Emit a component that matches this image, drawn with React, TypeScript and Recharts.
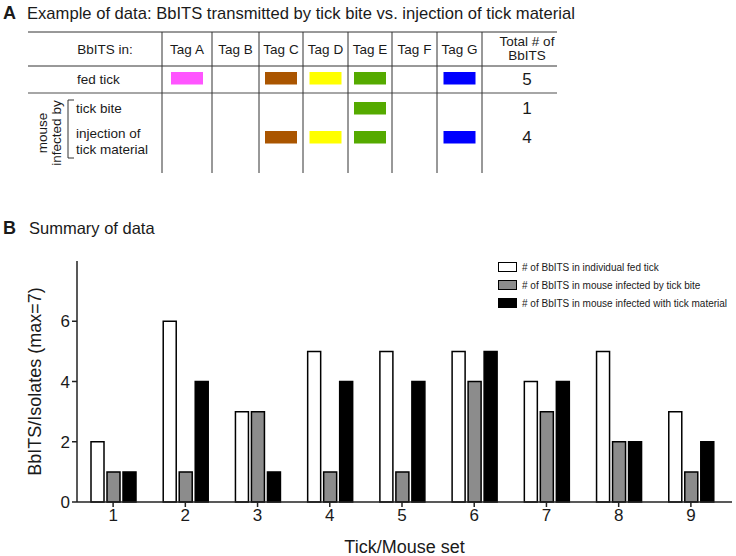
import { Bar, BarChart, XAxis, YAxis } from "recharts";

// panel A: example table
const tags = ["Tag A", "Tag B", "Tag C", "Tag D", "Tag E", "Tag F", "Tag G"];
const tagColors = ["#ff55ff", "#ffffff", "#aa5500", "#ffff00", "#55aa00", "#ffffff", "#0000ff"];
const fedTickHits = [1, 0, 1, 1, 1, 0, 1];
const tickBiteHits = [0, 0, 0, 0, 1, 0, 0];
const injectionHits = [0, 0, 1, 1, 1, 0, 1];
const rowTotals = [5, 1, 4];

// panel B: summary
const sets = ["1", "2", "3", "4", "5", "6", "7", "8", "9"];
const fedTick = [2, 6, 3, 5, 5, 5, 4, 5, 3];
const tickBite = [1, 1, 3, 1, 1, 4, 3, 2, 1];
const tickMaterial = [1, 4, 1, 4, 4, 5, 4, 2, 2];
const yTicks = [0, 2, 4, 6];

const seriesNames = [
  "# of BbITS in individual fed tick",
  "# of BbITS in mouse infected by tick bite",
  "# of BbITS in mouse infected with tick material",
];
const seriesFills = ["#ffffff", "#8c8c8c", "#000000"];

const FONT = "'Liberation Sans', Arial, sans-serif";
const INK = "#1a1a1a";

const colEdges = [162, 212, 259, 303, 348, 392, 437, 482];

function TableA() {
  const rows = [
    { hits: fedTickHits, y: 72 },
    { hits: tickBiteHits, y: 102 },
    { hits: injectionHits, y: 131 },
  ];
  return (
    <svg width={736} height={200} style={{ position: "absolute", left: 0, top: 0 }} fontFamily={FONT}>
      <text x={3} y={19} fontSize={18} fontWeight="bold" fill={INK}>A</text>
      <text x={27} y={19} fontSize={16.6} fill={INK}>
        Example of data: BbITS transmitted by tick bite vs. injection of tick material
      </text>

      <line x1={28} x2={557} y1={32} y2={32} stroke="#333" strokeWidth={1} />
      <line x1={28} x2={557} y1={66} y2={66} stroke="#333" strokeWidth={1} />
      <line x1={28} x2={557} y1={93} y2={93} stroke="#888" strokeWidth={1.5} />
      {colEdges.map((x) => (
        <line key={x} x1={x} x2={x} y1={32} y2={173} stroke="#333" strokeWidth={1} />
      ))}

      <text x={105} y={54} fontSize={13.5} textAnchor="middle" fill={INK}>BbITS in:</text>
      {tags.map((t, i) => (
        <text key={t} x={(colEdges[i] + colEdges[i + 1]) / 2} y={54} fontSize={13.5} textAnchor="middle" fill={INK}>
          {t}
        </text>
      ))}
      <text x={527} y={46} fontSize={13.5} textAnchor="middle" fill={INK}>Total # of</text>
      <text x={527} y={60} fontSize={13.5} textAnchor="middle" fill={INK}>BbITS</text>

      <text x={77} y={84} fontSize={13.5} fill={INK}>fed tick</text>
      <text x={76} y={113} fontSize={13.5} fill={INK}>tick bite</text>
      <text x={76} y={138} fontSize={13.5} fill={INK}>injection of</text>
      <text x={76} y={154} fontSize={13.5} fill={INK}>tick material</text>

      <g transform="rotate(-90, 47, 133)">
        <text x={47} y={132.5} fontSize={13.5} textAnchor="middle" fill={INK}>mouse</text>
        <text x={47} y={146.5} fontSize={13.5} textAnchor="middle" fill={INK}>infected by</text>
      </g>
      <polyline points="74,100 68,100 68,158 74,158" fill="none" stroke="#333" strokeWidth={1} />

      {rows.map((r, ri) =>
        r.hits.map((h, i) =>
          h ? (
            <rect
              key={`${ri}-${i}`}
              x={(colEdges[i] + colEdges[i + 1]) / 2 - 16}
              y={r.y}
              width={32}
              height={12.5}
              fill={tagColors[i]}
            />
          ) : null
        )
      )}
      {rowTotals.map((t, i) => (
        <text key={i} x={527} y={[85, 114, 143][i]} fontSize={17} textAnchor="middle" fill={INK}>
          {t}
        </text>
      ))}
    </svg>
  );
}

const data = sets.map((s, i) => ({
  set: s,
  fed: fedTick[i],
  bite: tickBite[i],
  material: tickMaterial[i],
}));

function LegendBox() {
  return (
    <div style={{ position: "absolute", left: 498, top: 258, fontFamily: FONT, fontSize: 10, color: INK }}>
      {seriesNames.map((n, i) => (
        <div key={n} style={{ display: "flex", alignItems: "center", height: 18 }}>
          <svg width={24} height={10}>
            <rect x={0.5} y={0.5} width={18} height={9} fill={seriesFills[i]} stroke="#000" strokeWidth={1} />
          </svg>
          <span>{n}</span>
        </div>
      ))}
    </div>
  );
}

function YLabel(props: any) {
  const vb = props.viewBox || { x: 0, y: 0, width: 0, height: 0 };
  const cx = vb.x + 35;
  const cy = vb.y + vb.height / 2;
  return (
    <text x={cx} y={cy} transform={`rotate(-90, ${cx}, ${cy})`} textAnchor="middle" dominantBaseline="central" fontSize={18} fill={INK} fontFamily={FONT}>
      BbITS/Isolates (max=7)
    </text>
  );
}

export default function App() {
  return (
    <div style={{ position: "absolute", left: 0, top: 0, width: 736, height: 556, background: "#fff", fontFamily: FONT }}>
      <TableA />
      <svg width={200} height={30} style={{ position: "absolute", left: 0, top: 214 }} fontFamily={FONT}>
        <text x={3} y={20} fontSize={18} fontWeight="bold" fill={INK}>B</text>
        <text x={29} y={20} fontSize={16.5} fill={INK}>Summary of data</text>
      </svg>
      <div style={{ position: "absolute", left: 0, top: 240 }}>
        <BarChart
          width={736}
          height={316}
          data={data}
          margin={{ top: 21, right: 4, bottom: 0, left: 0 }}
          barSize={13}
          barGap={3}
        >
          <XAxis
            dataKey="set"
            height={54}
            padding={{ left: 0, right: 5 }}
            tick={{ fontSize: 17, fill: INK, fontFamily: FONT }}
            tickSize={5}
            tickMargin={2}
            axisLine={{ stroke: "#222", strokeWidth: 1.5 }}
            tickLine={{ stroke: "#222", strokeWidth: 1.5 }}
            label={{ value: "Tick/Mouse set", position: "insideBottom", offset: 3, fontSize: 18, fill: INK, fontFamily: FONT }}
          />
          <YAxis
            width={77}
            domain={[0, 8]}
            ticks={yTicks}
            tick={{ fontSize: 17, fill: INK, fontFamily: FONT }}
            tickSize={5}
            tickMargin={2}
            axisLine={{ stroke: "#222", strokeWidth: 1.5 }}
            tickLine={{ stroke: "#222", strokeWidth: 1.5 }}
            label={<YLabel />}
          />
          <Bar dataKey="fed" name={seriesNames[0]} fill={seriesFills[0]} stroke="#000" strokeWidth={1.5} isAnimationActive={false} />
          <Bar dataKey="bite" name={seriesNames[1]} fill={seriesFills[1]} stroke="#000" strokeWidth={1.5} isAnimationActive={false} />
          <Bar dataKey="material" name={seriesNames[2]} fill={seriesFills[2]} stroke="#000" strokeWidth={1.5} isAnimationActive={false} />
        </BarChart>
      </div>
      <LegendBox />
    </div>
  );
}
